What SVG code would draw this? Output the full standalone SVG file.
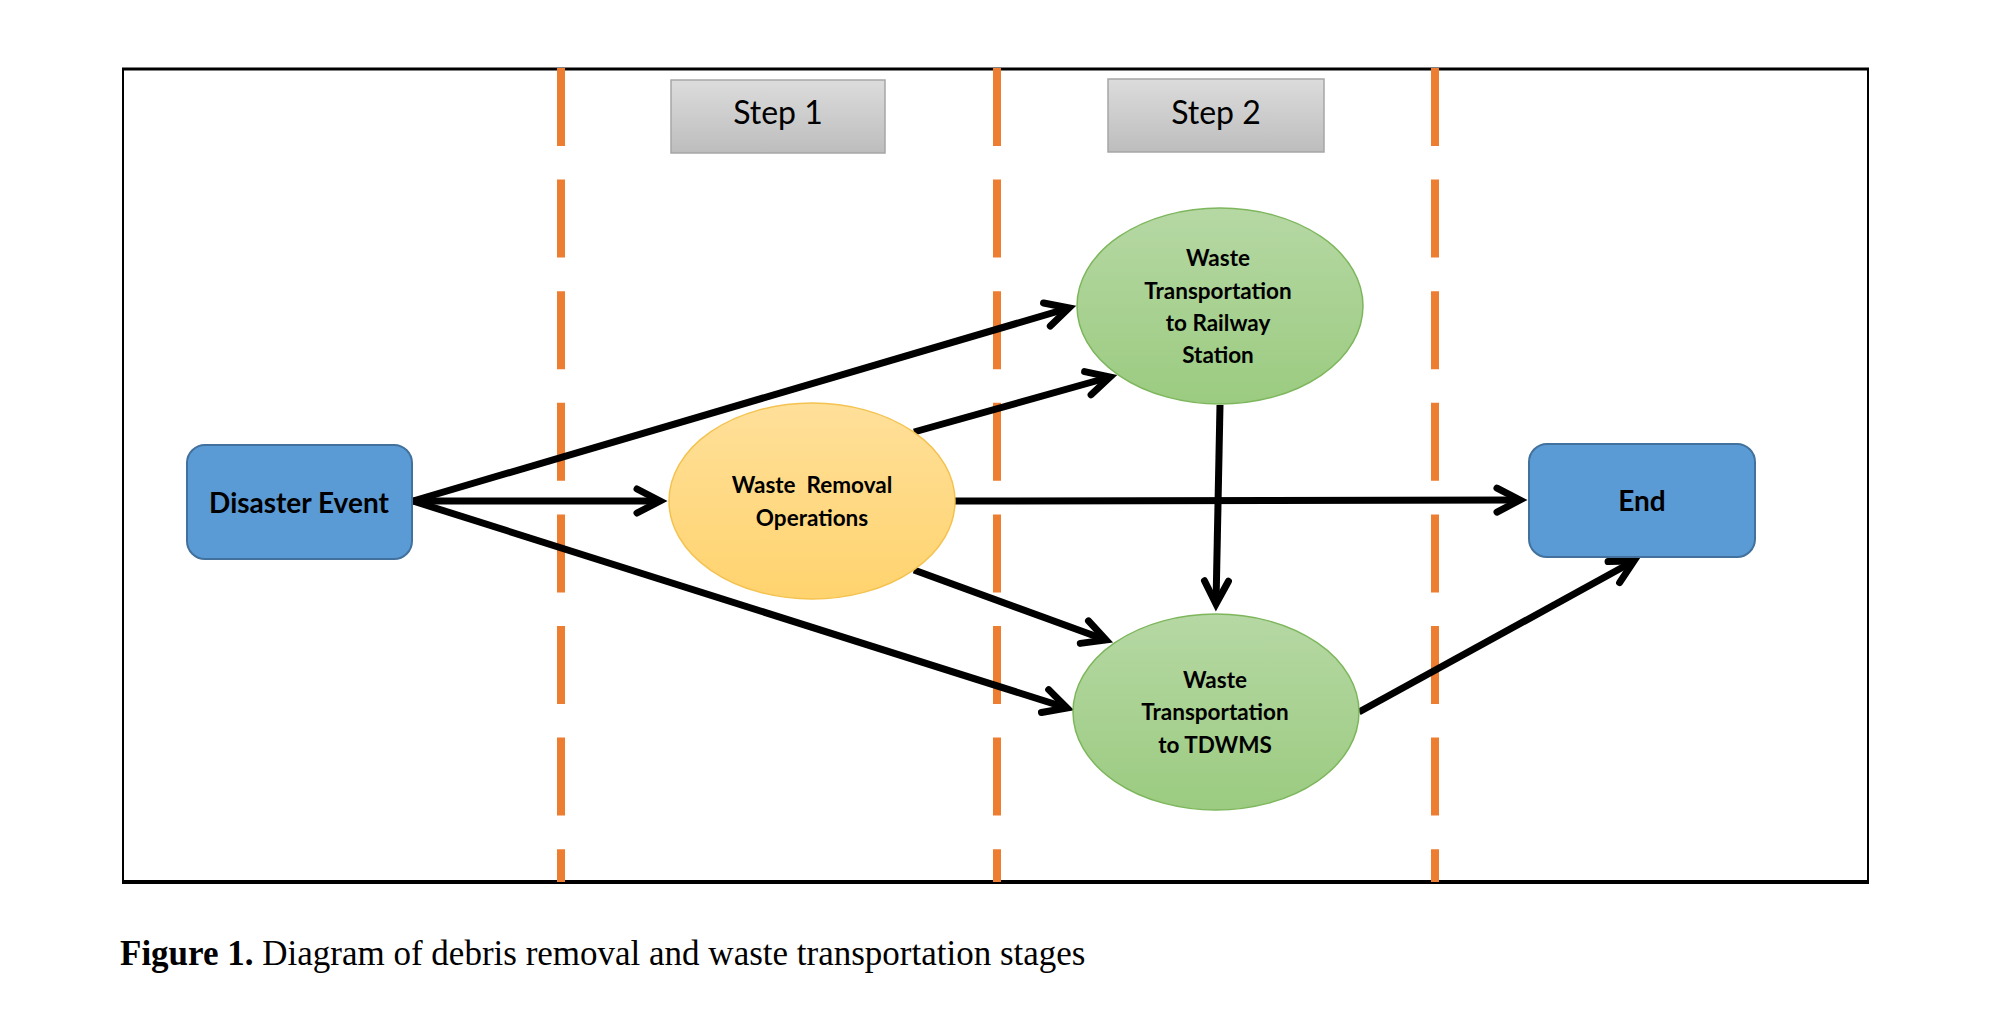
<svg xmlns="http://www.w3.org/2000/svg" width="2000" height="1014" viewBox="0 0 2000 1014">
<style>
.lbl{font-family:Lato,"Open Sans","Liberation Sans",sans-serif;font-weight:bold;fill:#000;text-anchor:middle}
.step{font-family:Lato,"Open Sans","Liberation Sans",sans-serif;font-size:32px;fill:#000;text-anchor:middle}
.dash{stroke:#ED7D31;stroke-width:8;stroke-dasharray:78 33.6;fill:none}
.conn{stroke:#000;stroke-width:7;fill:none;marker-end:url(#arr)}
.box{fill:#5B9BD5;stroke:#41719C;stroke-width:2}
.stepbox{fill:url(#gGray);stroke:#A6A6A6;stroke-width:1.5}
</style>
<defs>
<linearGradient id="gGray" x1="0" y1="0" x2="0" y2="1"><stop offset="0" stop-color="#DCDCDC"/><stop offset="1" stop-color="#BDBDBD"/></linearGradient>
<linearGradient id="gYel" x1="0" y1="0" x2="0" y2="1"><stop offset="0" stop-color="#FFE09A"/><stop offset="1" stop-color="#FFD36E"/></linearGradient>
<linearGradient id="gGrn" x1="0" y1="0" x2="0" y2="1"><stop offset="0" stop-color="#B6D8A4"/><stop offset="1" stop-color="#9BCB80"/></linearGradient>
<marker id="arr" markerUnits="userSpaceOnUse" viewBox="-40 -25 50 50" markerWidth="50" markerHeight="50" refX="0" refY="0" orient="auto" overflow="visible">
<path d="M-23,-12 L0,0 L-23,12" fill="none" stroke="#000" stroke-width="7" stroke-linecap="round" stroke-linejoin="miter"/>
</marker>
</defs>
<rect width="2000" height="1014" fill="#fff"/>
<g id="frame">
<line x1="122" y1="69" x2="1869" y2="69" stroke="#000" stroke-width="3"/>
<line x1="122" y1="882" x2="1869" y2="882" stroke="#000" stroke-width="4"/>
<line x1="123" y1="68" x2="123" y2="883" stroke="#000" stroke-width="2"/>
<line x1="1868" y1="68" x2="1868" y2="883" stroke="#000" stroke-width="2"/>
</g>
<g id="lanes">
<line class="dash" x1="561" y1="68" x2="561" y2="882"/>
<line class="dash" x1="997" y1="68" x2="997" y2="882"/>
<line class="dash" x1="1435" y1="68" x2="1435" y2="882"/>
</g>
<g id="step1">
<rect class="stepbox" x="671" y="80" width="214" height="73"/>
<text class="step" x="778" y="124">Step 1</text>
</g>
<g id="step2">
<rect class="stepbox" x="1108" y="79" width="216" height="73"/>
<text class="step" x="1216" y="124">Step 2</text>
</g>
<g id="connectors">
<line class="conn" x1="413" y1="501" x2="1069" y2="308"/>
<line class="conn" x1="413" y1="501" x2="660" y2="501"/>
<line class="conn" x1="413" y1="501" x2="1067" y2="708"/>
<line class="conn" x1="914" y1="432" x2="1110" y2="377"/>
<line class="conn" x1="914" y1="570" x2="1106" y2="640"/>
<line class="conn" x1="955" y1="501" x2="1520" y2="500"/>
<line class="conn" x1="1220" y1="405" x2="1216" y2="604"/>
<line class="conn" x1="1359" y1="712" x2="1634" y2="561"/>
</g>
<g id="disaster">
<rect class="box" x="187" y="445" width="225" height="114" rx="18" ry="18"/>
<text class="lbl" x="299" y="513" font-size="28">Disaster Event</text>
</g>
<g id="removal">
<ellipse cx="812" cy="501" rx="143" ry="98" fill="url(#gYel)" stroke="#F4C24F" stroke-width="1.5"/>
<text class="lbl" x="812" y="493" font-size="22.5" xml:space="preserve">Waste  Removal</text>
<text class="lbl" x="812" y="526" font-size="22.5">Operations</text>
</g>
<g id="railway">
<ellipse cx="1220" cy="306" rx="143" ry="98" fill="url(#gGrn)" stroke="#7DB65C" stroke-width="1.5"/>
<text class="lbl" x="1218" y="266" font-size="22.5">Waste</text>
<text class="lbl" x="1218" y="299" font-size="22.5">Transportation</text>
<text class="lbl" x="1218" y="331" font-size="22.5">to Railway</text>
<text class="lbl" x="1218" y="363" font-size="22.5">Station</text>
</g>
<g id="tdwms">
<ellipse cx="1216" cy="712" rx="143" ry="98" fill="url(#gGrn)" stroke="#7DB65C" stroke-width="1.5"/>
<text class="lbl" x="1215" y="688" font-size="22.5">Waste</text>
<text class="lbl" x="1215" y="720" font-size="22.5">Transportation</text>
<text class="lbl" x="1215" y="753" font-size="22.5">to TDWMS</text>
</g>
<g id="end">
<rect class="box" x="1529" y="444" width="226" height="113" rx="18" ry="18"/>
<text class="lbl" x="1642" y="511" font-size="28">End</text>
</g>
<text x="120" y="965" font-family="'Liberation Serif','Times New Roman',serif" font-size="35" fill="#000"><tspan font-weight="bold">Figure 1.</tspan> Diagram of debris removal and waste transportation stages</text>
</svg>
